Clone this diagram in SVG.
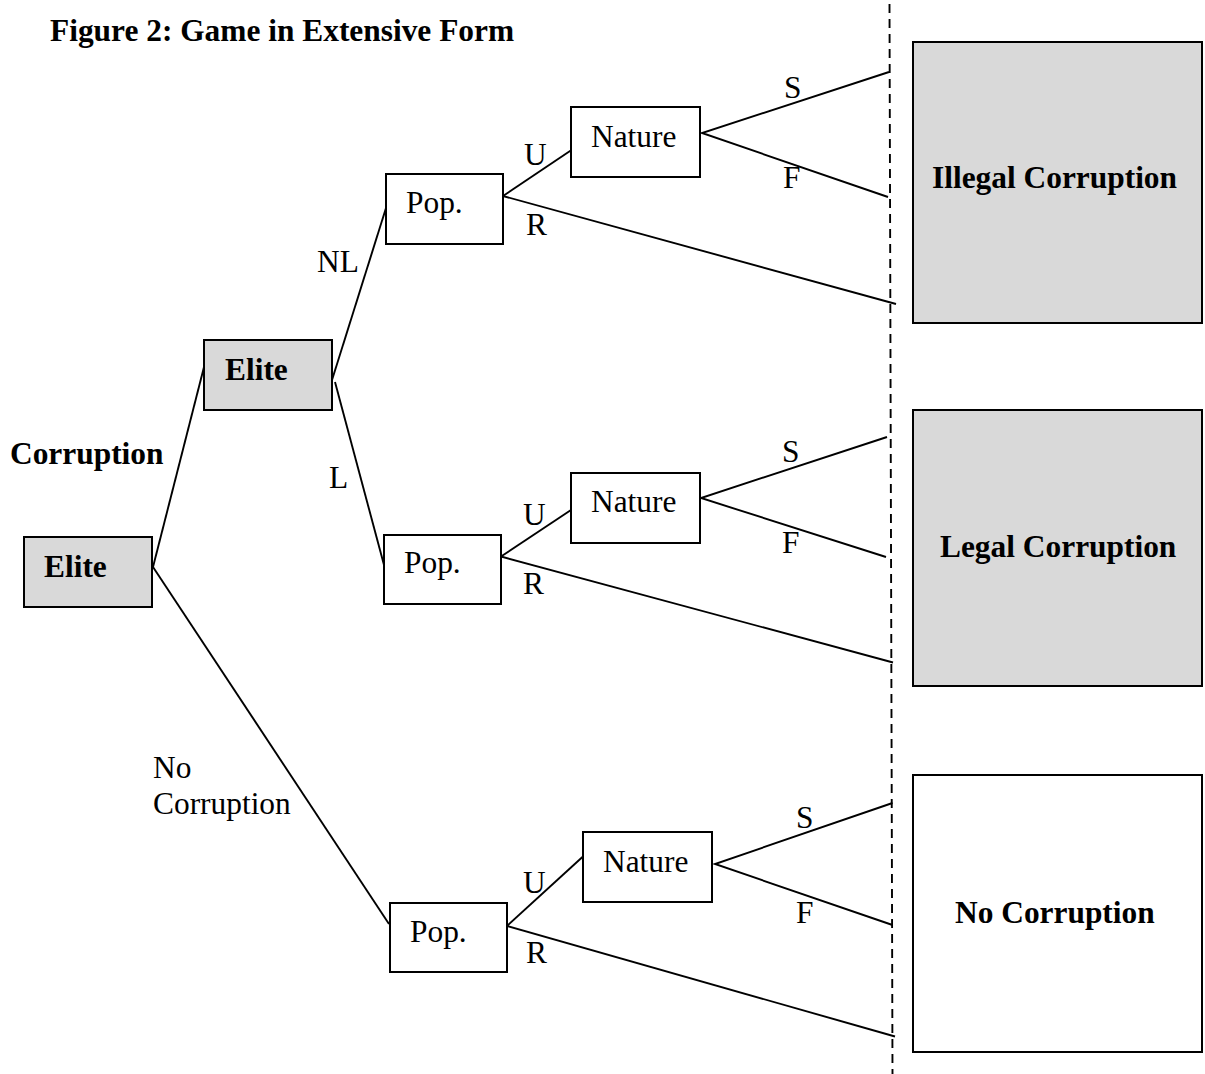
<svg xmlns="http://www.w3.org/2000/svg" width="1205" height="1074" viewBox="0 0 1205 1074">
<style>
text{font-family:"Liberation Serif","Times New Roman",serif;font-size:31.4px;fill:#000}
.b{font-weight:bold}
.box{fill:#fff;stroke:#000;stroke-width:2}
.g{fill:#d9d9d9}
.ln{stroke:#000;stroke-width:1.9;fill:none}
.dash{stroke:#000;stroke-width:1.9;stroke-dasharray:9,6;fill:none}
</style>
<rect width="1205" height="1074" fill="#fff"/>
<text class="b" x="50" y="41">Figure 2: Game in Extensive Form</text>

<g id="connectors">
<line class="dash" x1="889.5" y1="4" x2="892.5" y2="1074"/>
<line class="ln" x1="153" y1="567" x2="204" y2="367"/>
<line class="ln" x1="153" y1="567" x2="389" y2="924"/>
<line class="ln" x1="332" y1="380" x2="386" y2="208"/>
<line class="ln" x1="335" y1="382" x2="384" y2="565"/>
<line class="ln" x1="503" y1="196" x2="573" y2="149"/>
<line class="ln" x1="503" y1="196" x2="896" y2="304"/>
<polyline class="ln" points="889,72 702,133 888,197"/>
<line class="ln" x1="501" y1="556.5" x2="571" y2="510"/>
<line class="ln" x1="501" y1="556.5" x2="893" y2="662.5"/>
<polyline class="ln" points="887,437 701,498 886,557"/>
<line class="ln" x1="507" y1="926" x2="583" y2="856.5"/>
<line class="ln" x1="507" y1="926" x2="895" y2="1036.5"/>
<polyline class="ln" points="892.5,803 715,864 892.5,925"/>
</g>

<g id="labels">
<text class="b" x="10" y="464">Corruption</text>
<text x="317" y="272">NL</text>
<text x="329" y="488">L</text>
<text x="153" y="778">No</text>
<text x="153" y="814">Corruption</text>
<text x="524" y="165">U</text>
<text x="526" y="235">R</text>
<text x="784" y="98">S</text>
<text x="783" y="188">F</text>
<text x="523" y="525">U</text>
<text x="523" y="594">R</text>
<text x="782" y="462">S</text>
<text x="782" y="553">F</text>
<text x="523" y="893">U</text>
<text x="526" y="963">R</text>
<text x="796" y="828">S</text>
<text x="796" y="923">F</text>
</g>

<g id="elite-root"><rect class="box g" x="24" y="537" width="128" height="70"/><text class="b" x="44" y="577">Elite</text></g>
<g id="elite-2"><rect class="box g" x="204" y="340" width="128" height="70"/><text class="b" x="225" y="380">Elite</text></g>
<g id="pop-1"><rect class="box" x="386" y="174" width="117" height="70"/><text x="406" y="213">Pop.</text></g>
<g id="pop-2"><rect class="box" x="384" y="535" width="117" height="69"/><text x="404" y="573">Pop.</text></g>
<g id="pop-3"><rect class="box" x="390" y="903" width="117" height="69"/><text x="410" y="942">Pop.</text></g>
<g id="nature-1"><rect class="box" x="571" y="107" width="129" height="70"/><text x="591" y="147">Nature</text></g>
<g id="nature-2"><rect class="box" x="571" y="473" width="129" height="70"/><text x="591" y="512">Nature</text></g>
<g id="nature-3"><rect class="box" x="583" y="832" width="129" height="70"/><text x="603" y="872">Nature</text></g>
<g id="illegal"><rect class="box g" x="913" y="42" width="289" height="281"/><text class="b" x="932" y="188">Illegal Corruption</text></g>
<g id="legal"><rect class="box g" x="913" y="410" width="289" height="276"/><text class="b" x="940" y="557">Legal Corruption</text></g>
<g id="nocorr"><rect class="box" x="913" y="775" width="289" height="277"/><text class="b" x="955" y="923">No Corruption</text></g>
</svg>
